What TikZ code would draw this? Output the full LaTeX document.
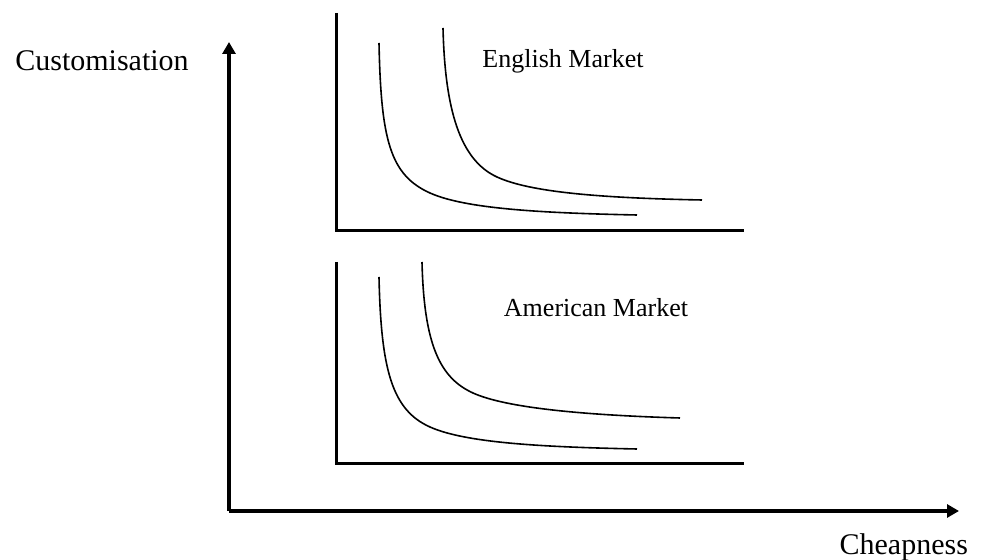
\documentclass[tikz,border=0pt]{standalone}
\usepackage{fontspec}
\setmainfont{Liberation Serif}
\usepackage{tikz}
\usetikzlibrary{arrows.meta}
\definecolor{ink}{HTML}{000000}

\begin{document}
\begin{tikzpicture}[x=0.5pt, y=-0.5pt, >={Triangle[length=6pt,width=6.5pt]},
    axis/.style={ink, line width=2.3pt},
    panel/.style={ink, line width=1.5pt},
    curve/.style={ink, line width=0.8pt},
    market/.style={font=\fontsize{13}{15}\selectfont, anchor=base}]
    \useasboundingbox (0,0) rectangle (987,560);
    % outer axes
    \coordinate (o) at (229,511);
    \coordinate (ytop) at (229,42);
    \coordinate (xend) at (959,511);
    \draw[axis,->] (o) -- (ytop);
    \draw[axis,->] (o) -- (xend);
    \node[font=\fontsize{15}{17}\selectfont, anchor=base] (ylab) at (102,71) {Customisation};
    \node[font=\fontsize{15}{17}\selectfont, anchor=base east] (xlab) at (975,555) {Cheapness};
    % English panel
    \draw[panel] (336,13) -- (336,231) -- (744,231);
    \draw[curve] (379,43) .. controls (381,140) and (390,175) .. (430,193)
                 .. controls (465,208.7) and (540,213) .. (637,215);
    \draw[curve] (443,28) .. controls (445,110) and (460,160) .. (497,177)
                 .. controls (530,192.2) and (600,198) .. (702,200);
    \node[market] (eng) at (563,68) {English Market};
    % American panel
    \draw[panel] (336,262) -- (336,464) -- (744,464);
    \draw[curve] (379,277) .. controls (381,370) and (392,410) .. (430,427)
                 .. controls (465,442.7) and (540,447) .. (637,449);
    \draw[curve] (422,262) .. controls (424,345) and (440,378) .. (473,393)
                 .. controls (505,407.5) and (580,415) .. (680,418);
    \node[market] (amer) at (596,317) {American Market};
\end{tikzpicture}
\end{document}
